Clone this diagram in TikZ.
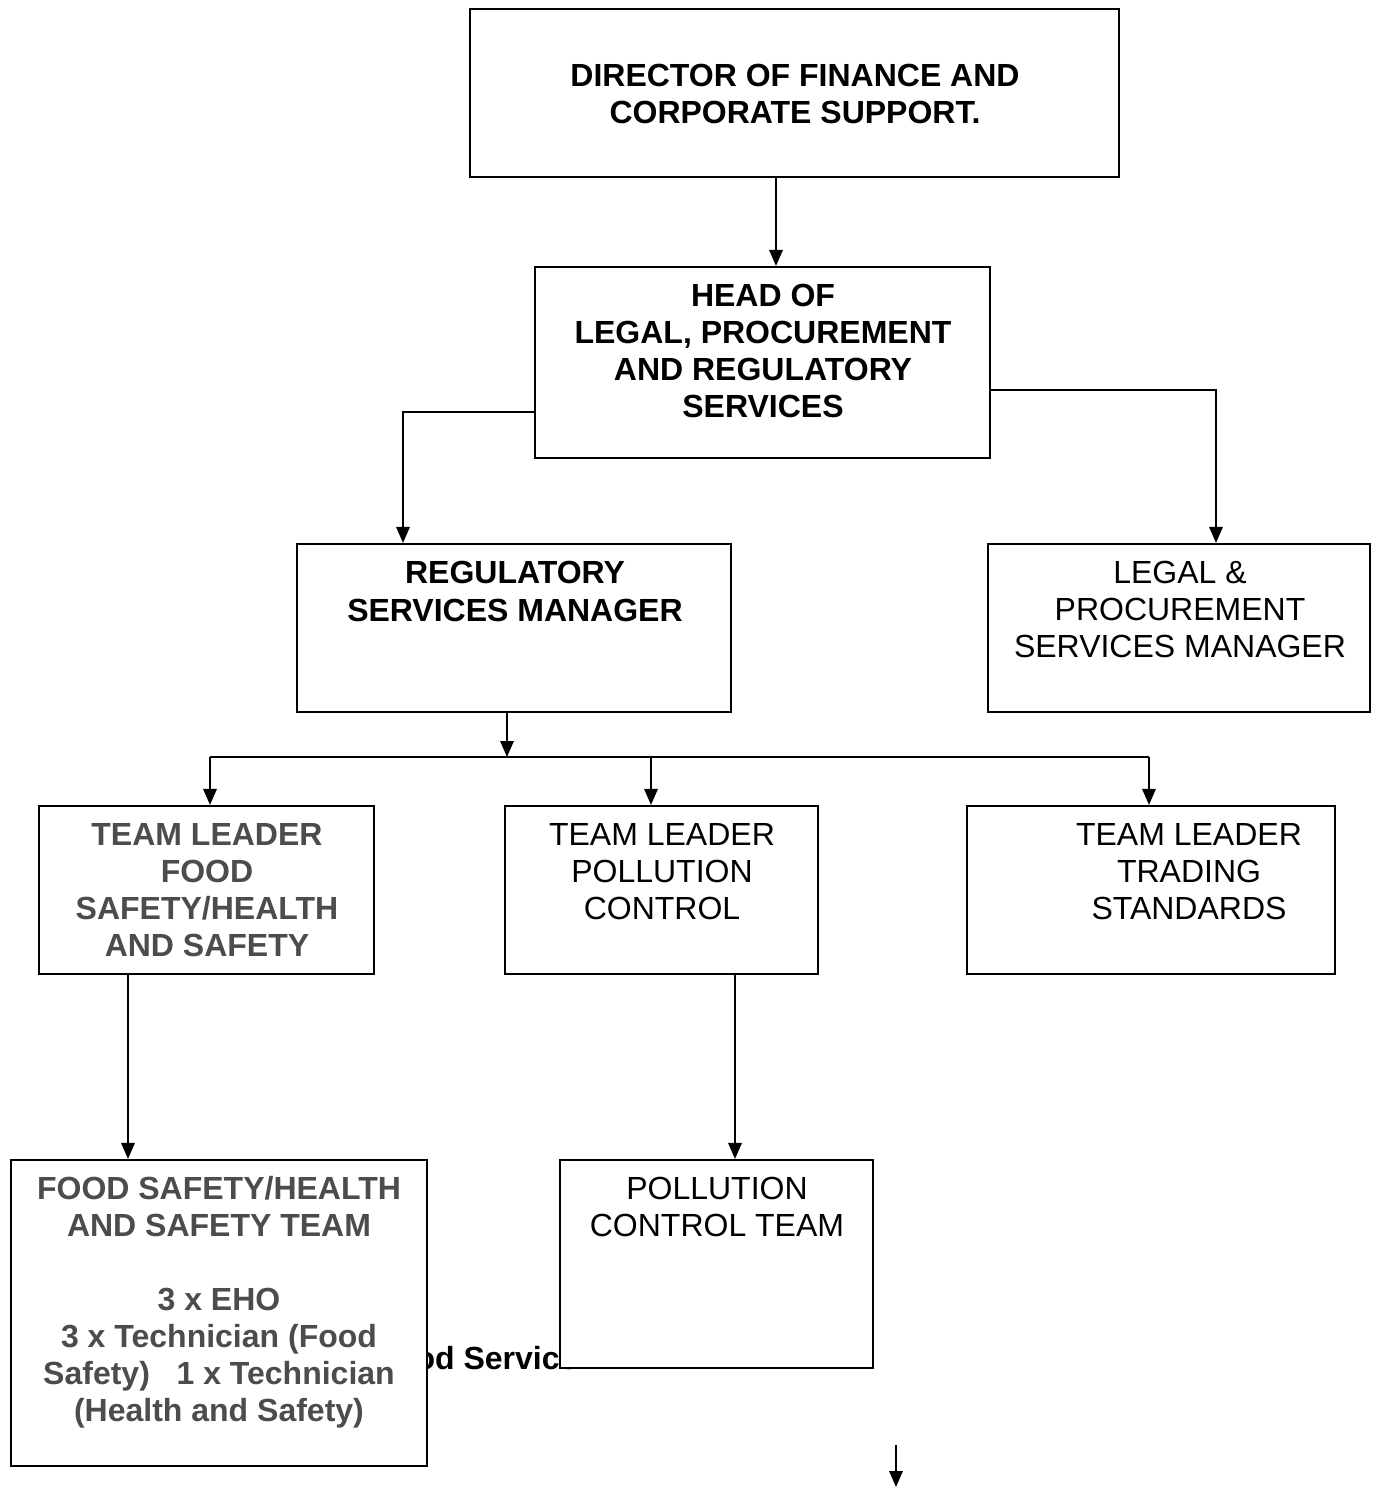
\documentclass[tikz,border=0pt]{standalone}
\usepackage{fontspec}
\setmainfont{Liberation Sans}
\usetikzlibrary{arrows.meta}

\tikzset{
  box/.style 2 args={draw, line width=0.8pt, fill=white, inner sep=0pt,
    minimum width=#1*0.375pt, minimum height=#2*0.375pt},
  txt/.style={align=center, inner sep=0pt, font=\fontsize{12}{13.9}\selectfont},
  btxt/.style={txt, font=\fontsize{12}{13.9}\selectfont\bfseries},
  arr/.style={line width=0.8pt, -{Triangle[length=6pt,width=5pt]}},
}

\begin{document}
\begin{tikzpicture}[x=0.375pt,y=-0.375pt]
  \useasboundingbox (0,0) rectangle (1373,1488);
  % stray text, half hidden by the two team boxes
  \node[btxt, anchor=base east] (fserv) at (578,1369) {Food Service};
  % boxes (centre, width, height in px)
  \node[box={649}{168}] (dir)     at (794.5,93)  {};
  \node[box={455}{191}] (head)    at (762.5,362.5) {};
  \node[box={434}{168}] (reg)     at (514,628)   {};
  \node[box={382}{168}] (legal)   at (1179,628)  {};
  \node[box={335}{168}] (tlfood)  at (206.5,890) {};
  \node[box={313}{168}] (tlpoll)  at (661.5,890) {};
  \node[box={368}{168}] (tltrade) at (1151,890)  {};
  \node[box={416}{306}] (fteam)   at (219,1313)  {};
  \node[box={313}{208}] (pteam)   at (716.5,1264) {};
  % texts
  \node[btxt] (dirtxt)   at (795,94)    {DIRECTOR OF FINANCE AND\\CORPORATE SUPPORT.};
  \node[btxt] (headtxt)  at (763,351)   {HEAD OF\\LEGAL, PROCUREMENT\\AND REGULATORY\\SERVICES};
  \node[btxt] (regtxt)   at (515,591.5) {REGULATORY\\SERVICES MANAGER};
  \node[txt]  (legaltxt) at (1180,609.5) {LEGAL \&\\PROCUREMENT\\SERVICES MANAGER};
  \node[btxt, text=black!70] (tlfoodtxt) at (207,890) {TEAM LEADER\\FOOD\\SAFETY/HEALTH\\AND SAFETY};
  \node[txt]  (tlpolltxt)  at (662,872)  {TEAM LEADER\\POLLUTION\\CONTROL};
  \node[txt]  (tltradetxt) at (1189,872) {TEAM LEADER\\TRADING\\STANDARDS};
  \node[btxt, text=black!70] (fteamtxt) at (219,1302)
    {FOOD SAFETY/HEALTH\\AND SAFETY TEAM\\[13.9pt]3 x EHO\\3 x Technician (Food\\Safety)\ \ \ 1 x Technician\\(Health and Safety)};
  \node[txt]  (pteamtxt) at (717,1206.5) {POLLUTION\\CONTROL TEAM};
  % bend points
  \coordinate (c0) at (776,0);
  \coordinate (j1) at (403,412);
  \coordinate (j2) at (1216,390);
  \coordinate (j3) at (507,757);
  \coordinate (j4) at (128,0);
  \coordinate (j5) at (735,0);
  \coordinate (s1) at (896,1445);
  \coordinate (s2) at (896,1487);
  % connectors
  \draw[arr] (dir.south -| c0) -- (head.north -| c0);
  \draw[arr] (head.west |- j1) -| (reg.north -| j1);
  \draw[arr] (head.east |- j2) -| (legal.north -| j2);
  \draw[arr] (reg.south -| j3) -- (j3);
  \draw[line width=0.8pt] ([xshift=3.5*0.375pt]tlfood.north |- j3) -- ([xshift=-2*0.375pt]tltrade.north |- j3);
  \foreach \n/\dx in {tlfood/3.5,tlpoll/-10.5,tltrade/-2}{
    \draw[arr] ([xshift=\dx*0.375pt]\n.north |- j3) -- ([xshift=\dx*0.375pt]\n.north);}
  \draw[arr] (tlfood.south -| j4) -- (fteam.north -| j4);
  \draw[arr] (tlpoll.south -| j5) -- (pteam.north -| j5);
  \draw[arr] (s1) -- (s2);
\end{tikzpicture}
\end{document}
